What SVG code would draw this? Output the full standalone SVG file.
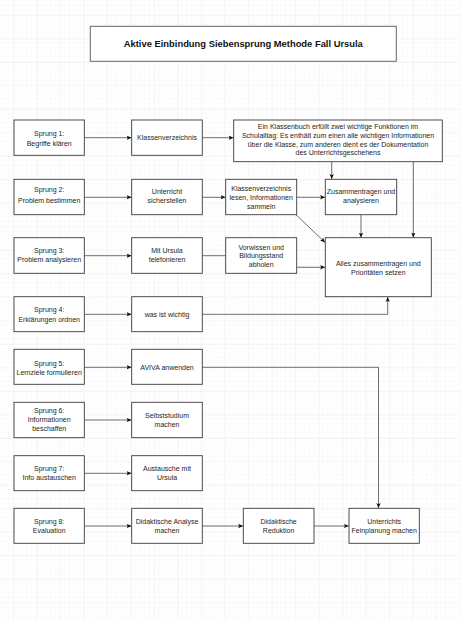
<svg xmlns="http://www.w3.org/2000/svg" width="460" height="620" viewBox="0 0 460 620">
<style>
.box{fill:#fff;stroke:#3a3a3a;stroke-width:0.9}
.title{fill:#fff;stroke:#666;stroke-width:1}
.t{font-family:"Liberation Sans",Arial,sans-serif;font-size:7px;fill:#1e1e1e;text-anchor:middle}
.tb{font-family:"Liberation Sans",Arial,sans-serif;font-size:9.4px;font-weight:bold;fill:#111;text-anchor:middle}
.c{fill:none;stroke:#4a4a4a;stroke-width:0.8}
</style>
<defs>
<pattern id="minor" x="13.3" y="15" width="4.7" height="4.7" patternUnits="userSpaceOnUse">
<path d="M4.7 0V4.7M0 4.7H4.7" fill="none" stroke="#f2f2f2" stroke-width="0.5"/>
</pattern>
<pattern id="major" x="13.3" y="15" width="23.5" height="23.5" patternUnits="userSpaceOnUse">
<path d="M0 0V23.5M0 0H23.5" fill="none" stroke="#e2e2e2" stroke-width="0.6"/>
</pattern>
<marker id="ah" markerUnits="userSpaceOnUse" markerWidth="6" markerHeight="6" refX="5" refY="2.2" orient="auto" viewBox="0 0 6 4.4">
<path d="M0 0L5 2.2L0 4.4L1.2 2.2Z" fill="#111"/>
</marker>
</defs>
<rect width="460" height="620" fill="#fff"/>
<rect width="460" height="620" fill="url(#minor)"/>
<rect width="460" height="620" fill="url(#major)"/>

<g id="connectors">
<path class="c" d="M84.3 137.7H131.5" marker-end="url(#ah)"/>
<path class="c" d="M202.3 137.7H233.5" marker-end="url(#ah)"/>
<path class="c" d="M84.3 197.3H131.5" marker-end="url(#ah)"/>
<path class="c" d="M202.3 197.3H225.5" marker-end="url(#ah)"/>
<path class="c" d="M296.7 197.3H325.1" marker-end="url(#ah)"/>
<path class="c" d="M331.7 161.7V179.1" marker-end="url(#ah)"/>
<path class="c" d="M413.3 161.7V237.5" marker-end="url(#ah)"/>
<path class="c" d="M296 214.7L325 242.4" marker-end="url(#ah)"/>
<path class="c" d="M361 214.7V237.5" marker-end="url(#ah)"/>
<path class="c" d="M84.3 255.7H131.5" marker-end="url(#ah)"/>
<path class="c" d="M202.3 255.7H225.7"/>
<path class="c" d="M296.7 267.3H325.1" marker-end="url(#ah)"/>
<path class="c" d="M84.3 314.3H131.5" marker-end="url(#ah)"/>
<path class="c" d="M202.3 314.3H387.7V296.9" marker-end="url(#ah)"/>
<path class="c" d="M84.3 367.3H131.5" marker-end="url(#ah)"/>
<path class="c" d="M202.3 367.3H378.5V508.1" marker-end="url(#ah)"/>
<path class="c" d="M84.3 420H131.5" marker-end="url(#ah)"/>
<path class="c" d="M84.3 473.3H131.5" marker-end="url(#ah)"/>
<path class="c" d="M84.3 526H131.5" marker-end="url(#ah)"/>
<path class="c" d="M202.3 526H243.1" marker-end="url(#ah)"/>
<path class="c" d="M314 526H348.8" marker-end="url(#ah)"/>
</g>

<g id="title">
<rect class="title" x="90.3" y="26.3" width="306" height="35"/>
<text class="tb" x="243.3" y="47.4">Aktive Einbindung Siebensprung Methode Fall Ursula</text>
</g>

<g id="sprung1">
<rect class="box" x="14" y="120" width="70.3" height="35.3"/>
<text class="t" x="49.2" y="136.4">Sprung 1:</text>
<text class="t" x="49.2" y="145.7">Begriffe klären</text>
</g>
<g id="klassenverzeichnis">
<rect class="box" x="131.7" y="120" width="70.6" height="35.3"/>
<text class="t" x="167" y="140.1">Klassenverzeichnis</text>
</g>
<g id="klassenbuch">
<rect class="box" x="233.7" y="120" width="208.6" height="41.7"/>
<text class="t" x="338" y="129.1">Ein Klassenbuch erfüllt zwei wichtige Funktionen im</text>
<text class="t" x="338" y="138.1">Schulalltag: Es enthält zum einen alle wichtigen Informationen</text>
<text class="t" x="338" y="146.7">über die Klasse, zum anderen dient es der Dokumentation</text>
<text class="t" x="338" y="155.4">des Unterrichtsgeschehens</text>
</g>

<g id="sprung2">
<rect class="box" x="14" y="179.3" width="70.3" height="35.4"/>
<text class="t" x="49.2" y="192.4">Sprung 2:</text>
<text class="t" x="49.2" y="203.4">Problem bestimmen</text>
</g>
<g id="unterricht">
<rect class="box" x="131.7" y="179.3" width="70.6" height="35.4"/>
<text class="t" x="167" y="194.1">Unterricht</text>
<text class="t" x="167" y="203.4">sicherstellen</text>
</g>
<g id="lesen">
<rect class="box" x="225.7" y="179.3" width="71" height="35.4"/>
<text class="t" x="261.2" y="191.1">Klassenverzeichnis</text>
<text class="t" x="261.2" y="199.7">lesen, Informationen</text>
<text class="t" x="261.2" y="208.7">sammeln</text>
</g>
<g id="zusammentragen">
<rect class="box" x="325.3" y="179.3" width="71.4" height="35.4"/>
<text class="t" x="361" y="194.1">Zusammentragen und</text>
<text class="t" x="361" y="203.4">analysieren</text>
</g>

<g id="sprung3">
<rect class="box" x="14" y="237.7" width="70.3" height="35.6"/>
<text class="t" x="49.2" y="253.1">Sprung 3:</text>
<text class="t" x="49.2" y="262.4">Problem analysieren</text>
</g>
<g id="ursula">
<rect class="box" x="131.7" y="237.7" width="70.6" height="35.6"/>
<text class="t" x="167" y="253.1">Mit Ursula</text>
<text class="t" x="167" y="262.4">telefonieren</text>
</g>
<g id="vorwissen">
<rect class="box" x="225.7" y="237.7" width="71" height="35.6"/>
<text class="t" x="261.2" y="249.7">Vorwissen und</text>
<text class="t" x="261.2" y="258.1">Bildungsstand</text>
<text class="t" x="261.2" y="267.4">abholen</text>
</g>
<g id="alles">
<rect class="box" x="325.3" y="237.7" width="106" height="59"/>
<text class="t" x="378.3" y="265.7">Alles zusammentragen und</text>
<text class="t" x="378.3" y="274.7">Prioritäten setzen</text>
</g>

<g id="sprung4">
<rect class="box" x="14" y="296.7" width="70.3" height="35"/>
<text class="t" x="49.2" y="311.7">Sprung 4:</text>
<text class="t" x="49.2" y="321.7">Erklärungen ordnen</text>
</g>
<g id="wichtig">
<rect class="box" x="131.7" y="296.7" width="70.6" height="35"/>
<text class="t" x="167" y="316.7">was ist wichtig</text>
</g>

<g id="sprung5">
<rect class="box" x="14" y="349.3" width="70.3" height="35"/>
<text class="t" x="49.2" y="365.7">Sprung 5:</text>
<text class="t" x="49.2" y="374.7">Lernziele formulieren</text>
</g>
<g id="aviva">
<rect class="box" x="131.7" y="349.3" width="70.6" height="35"/>
<text class="t" x="167" y="369.7">AVIVA anwenden</text>
</g>

<g id="sprung6">
<rect class="box" x="14" y="402.3" width="70.3" height="35.4"/>
<text class="t" x="49.2" y="413.4">Sprung 6:</text>
<text class="t" x="49.2" y="422.4">Informationen</text>
<text class="t" x="49.2" y="431.4">beschaffen</text>
</g>
<g id="selbststudium">
<rect class="box" x="131.7" y="402.3" width="70.6" height="35.4"/>
<text class="t" x="167" y="418.1">Selbststudium</text>
<text class="t" x="167" y="427.4">machen</text>
</g>

<g id="sprung7">
<rect class="box" x="14" y="455.7" width="70.3" height="35"/>
<text class="t" x="49.2" y="471.1">Sprung 7:</text>
<text class="t" x="49.2" y="480.1">Info austauschen</text>
</g>
<g id="austausche">
<rect class="box" x="131.7" y="455.7" width="70.6" height="35"/>
<text class="t" x="167" y="471.1">Austausche mit</text>
<text class="t" x="167" y="480.1">Ursula</text>
</g>

<g id="sprung8">
<rect class="box" x="14" y="508.3" width="70.3" height="35"/>
<text class="t" x="49.2" y="524.1">Sprung 8:</text>
<text class="t" x="49.2" y="533.4">Evaluation</text>
</g>
<g id="analyse">
<rect class="box" x="131.7" y="508.3" width="70.6" height="35"/>
<text class="t" x="167" y="524.1">Didaktische Analyse</text>
<text class="t" x="167" y="533.4">machen</text>
</g>
<g id="reduktion">
<rect class="box" x="243.3" y="508.3" width="70.7" height="35"/>
<text class="t" x="278.6" y="524.1">Didaktische</text>
<text class="t" x="278.6" y="533.4">Reduktion</text>
</g>
<g id="feinplanung">
<rect class="box" x="349" y="508.3" width="70.3" height="35"/>
<text class="t" x="384.2" y="524.1">Unterrichts</text>
<text class="t" x="384.2" y="533.4">Feinplanung machen</text>
</g>
</svg>
